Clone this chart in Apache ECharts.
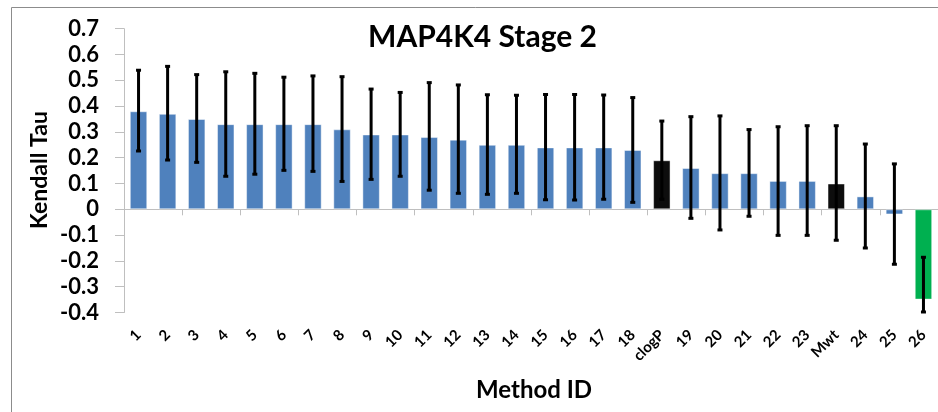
<!DOCTYPE html>
<html>
<head>
<meta charset="utf-8">
<script src="https://cdn.jsdelivr.net/npm/echarts@6/dist/echarts.min.js"></script>
<style>
html,body{margin:0;padding:0;background:#fff;}
#chart{width:938px;height:412px;}
</style>
</head>
<body>
<div id="chart"></div>
<script>
const categories = ['1','2','3','4','5','6','7','8','9','10','11','12','13','14','15','16','17','18','clogP','19','20','21','22','23','Mwt','24','25','26'];
const tau = [0.38,0.37,0.35,0.33,0.33,0.33,0.33,0.31,0.29,0.29,0.28,0.27,0.25,0.25,0.24,0.24,0.24,0.23,0.19,0.16,0.14,0.14,0.11,0.11,0.10,0.05,-0.02,-0.35];
const errLow = [0.226,0.191,0.182,0.128,0.136,0.151,0.147,0.108,0.116,0.128,0.074,0.062,0.058,0.062,0.037,0.036,0.039,0.027,0.039,-0.035,-0.080,-0.027,-0.101,-0.101,-0.120,-0.150,-0.213,-0.398];
const errHigh = [0.539,0.554,0.522,0.533,0.527,0.512,0.517,0.514,0.466,0.453,0.491,0.482,0.444,0.442,0.445,0.445,0.443,0.433,0.342,0.359,0.362,0.309,0.320,0.324,0.324,0.253,0.176,-0.186];
const yTicks = {min: -0.4, max: 0.7, interval: 0.1};

const FONT = 'Lato';
function barColor(name) {
  if (name === 'clogP' || name === 'Mwt') return '#0D0D0D';
  if (name === '26') return '#00B050';
  return '#4F81BD';
}

const chart = echarts.init(document.getElementById('chart'), null, {renderer: 'canvas'});
const option = {
  animation: false,
  backgroundColor: '#fff',
  grid: {left: 124, right: -6, top: 28.7, bottom: 99.5, containLabel: false},
  xAxis: [
    {
      type: 'category', data: categories, position: 'bottom',
      axisLine: {show: true, onZero: true, lineStyle: {color: '#BFBFBF', width: 1}},
      axisTick: {show: true, length: 6, alignWithLabel: false, lineStyle: {color: '#BFBFBF'}},
      axisLabel: {show: false},
      splitLine: {show: false}
    },
    {
      type: 'category', data: categories, position: 'bottom',
      axisLine: {show: false, onZero: false},
      axisTick: {show: false},
      axisLabel: {show: true, rotate: 45, interval: 0, margin: 20, color: '#000', fontFamily: FONT, fontWeight: 'bold', fontSize: 15},
      splitLine: {show: false}
    }
  ],
  yAxis: {
    type: 'value', min: yTicks.min, max: yTicks.max, interval: yTicks.interval,
    axisLine: {show: true, lineStyle: {color: '#BFBFBF'}},
    axisTick: {show: true, inside: false, length: 9, lineStyle: {color: '#BFBFBF'}},
    splitLine: {show: false},
    axisLabel: {
      margin: 25, color: '#000', fontFamily: FONT, fontWeight: 'bold', fontSize: 22,
      formatter: v => String(+v.toFixed(1))
    }
  },
  series: [
    {
      type: 'bar', xAxisIndex: 0, barWidth: '60%',
      data: tau.map((v, i) => ({value: v, itemStyle: {color: barColor(categories[i]), borderColor: 'rgba(255,255,255,0.45)', borderWidth: 1}}))
    },
    {
      type: 'custom', xAxisIndex: 0, z: 5,
      data: categories.map((c, i) => [i, errLow[i], errHigh[i]]),
      renderItem: function (params, api) {
        const i = api.value(0);
        const lo = api.coord([i, api.value(1)]);
        const hi = api.coord([i, api.value(2)]);
        const st = {stroke: '#000', lineWidth: 3};
        const cw = 2.5;
        return {
          type: 'group',
          children: [
            {type: 'line', shape: {x1: lo[0], y1: lo[1], x2: hi[0], y2: hi[1]}, style: st},
            {type: 'line', shape: {x1: hi[0] - cw, y1: hi[1], x2: hi[0] + cw, y2: hi[1]}, style: st},
            {type: 'line', shape: {x1: lo[0] - cw, y1: lo[1], x2: lo[0] + cw, y2: lo[1]}, style: st}
          ]
        };
      }
    }
  ],
  graphic: [
    {type: 'rect', silent: true, shape: {x: 11.5, y: 7.5, width: 1000, height: 1000}, style: {fill: 'none', stroke: '#8C8C8C', lineWidth: 1}},
    {type: 'text', style: {x: 482.5, y: 37, text: 'MAP4K4 Stage 2', textAlign: 'center', textVerticalAlign: 'middle', fill: '#000', font: 'bold 30px ' + FONT}},
    {type: 'text', rotation: Math.PI / 2, x: 40, y: 170, style: {x: 0, y: 0, text: 'Kendall Tau', textAlign: 'center', textVerticalAlign: 'middle', fill: '#000', font: 'bold 23px ' + FONT}},
    {type: 'text', style: {x: 534, y: 390, text: 'Method ID', textAlign: 'center', textVerticalAlign: 'middle', fill: '#000', font: 'bold 24px ' + FONT}}
  ]
};
chart.setOption(option);
</script>
</body>
</html>
